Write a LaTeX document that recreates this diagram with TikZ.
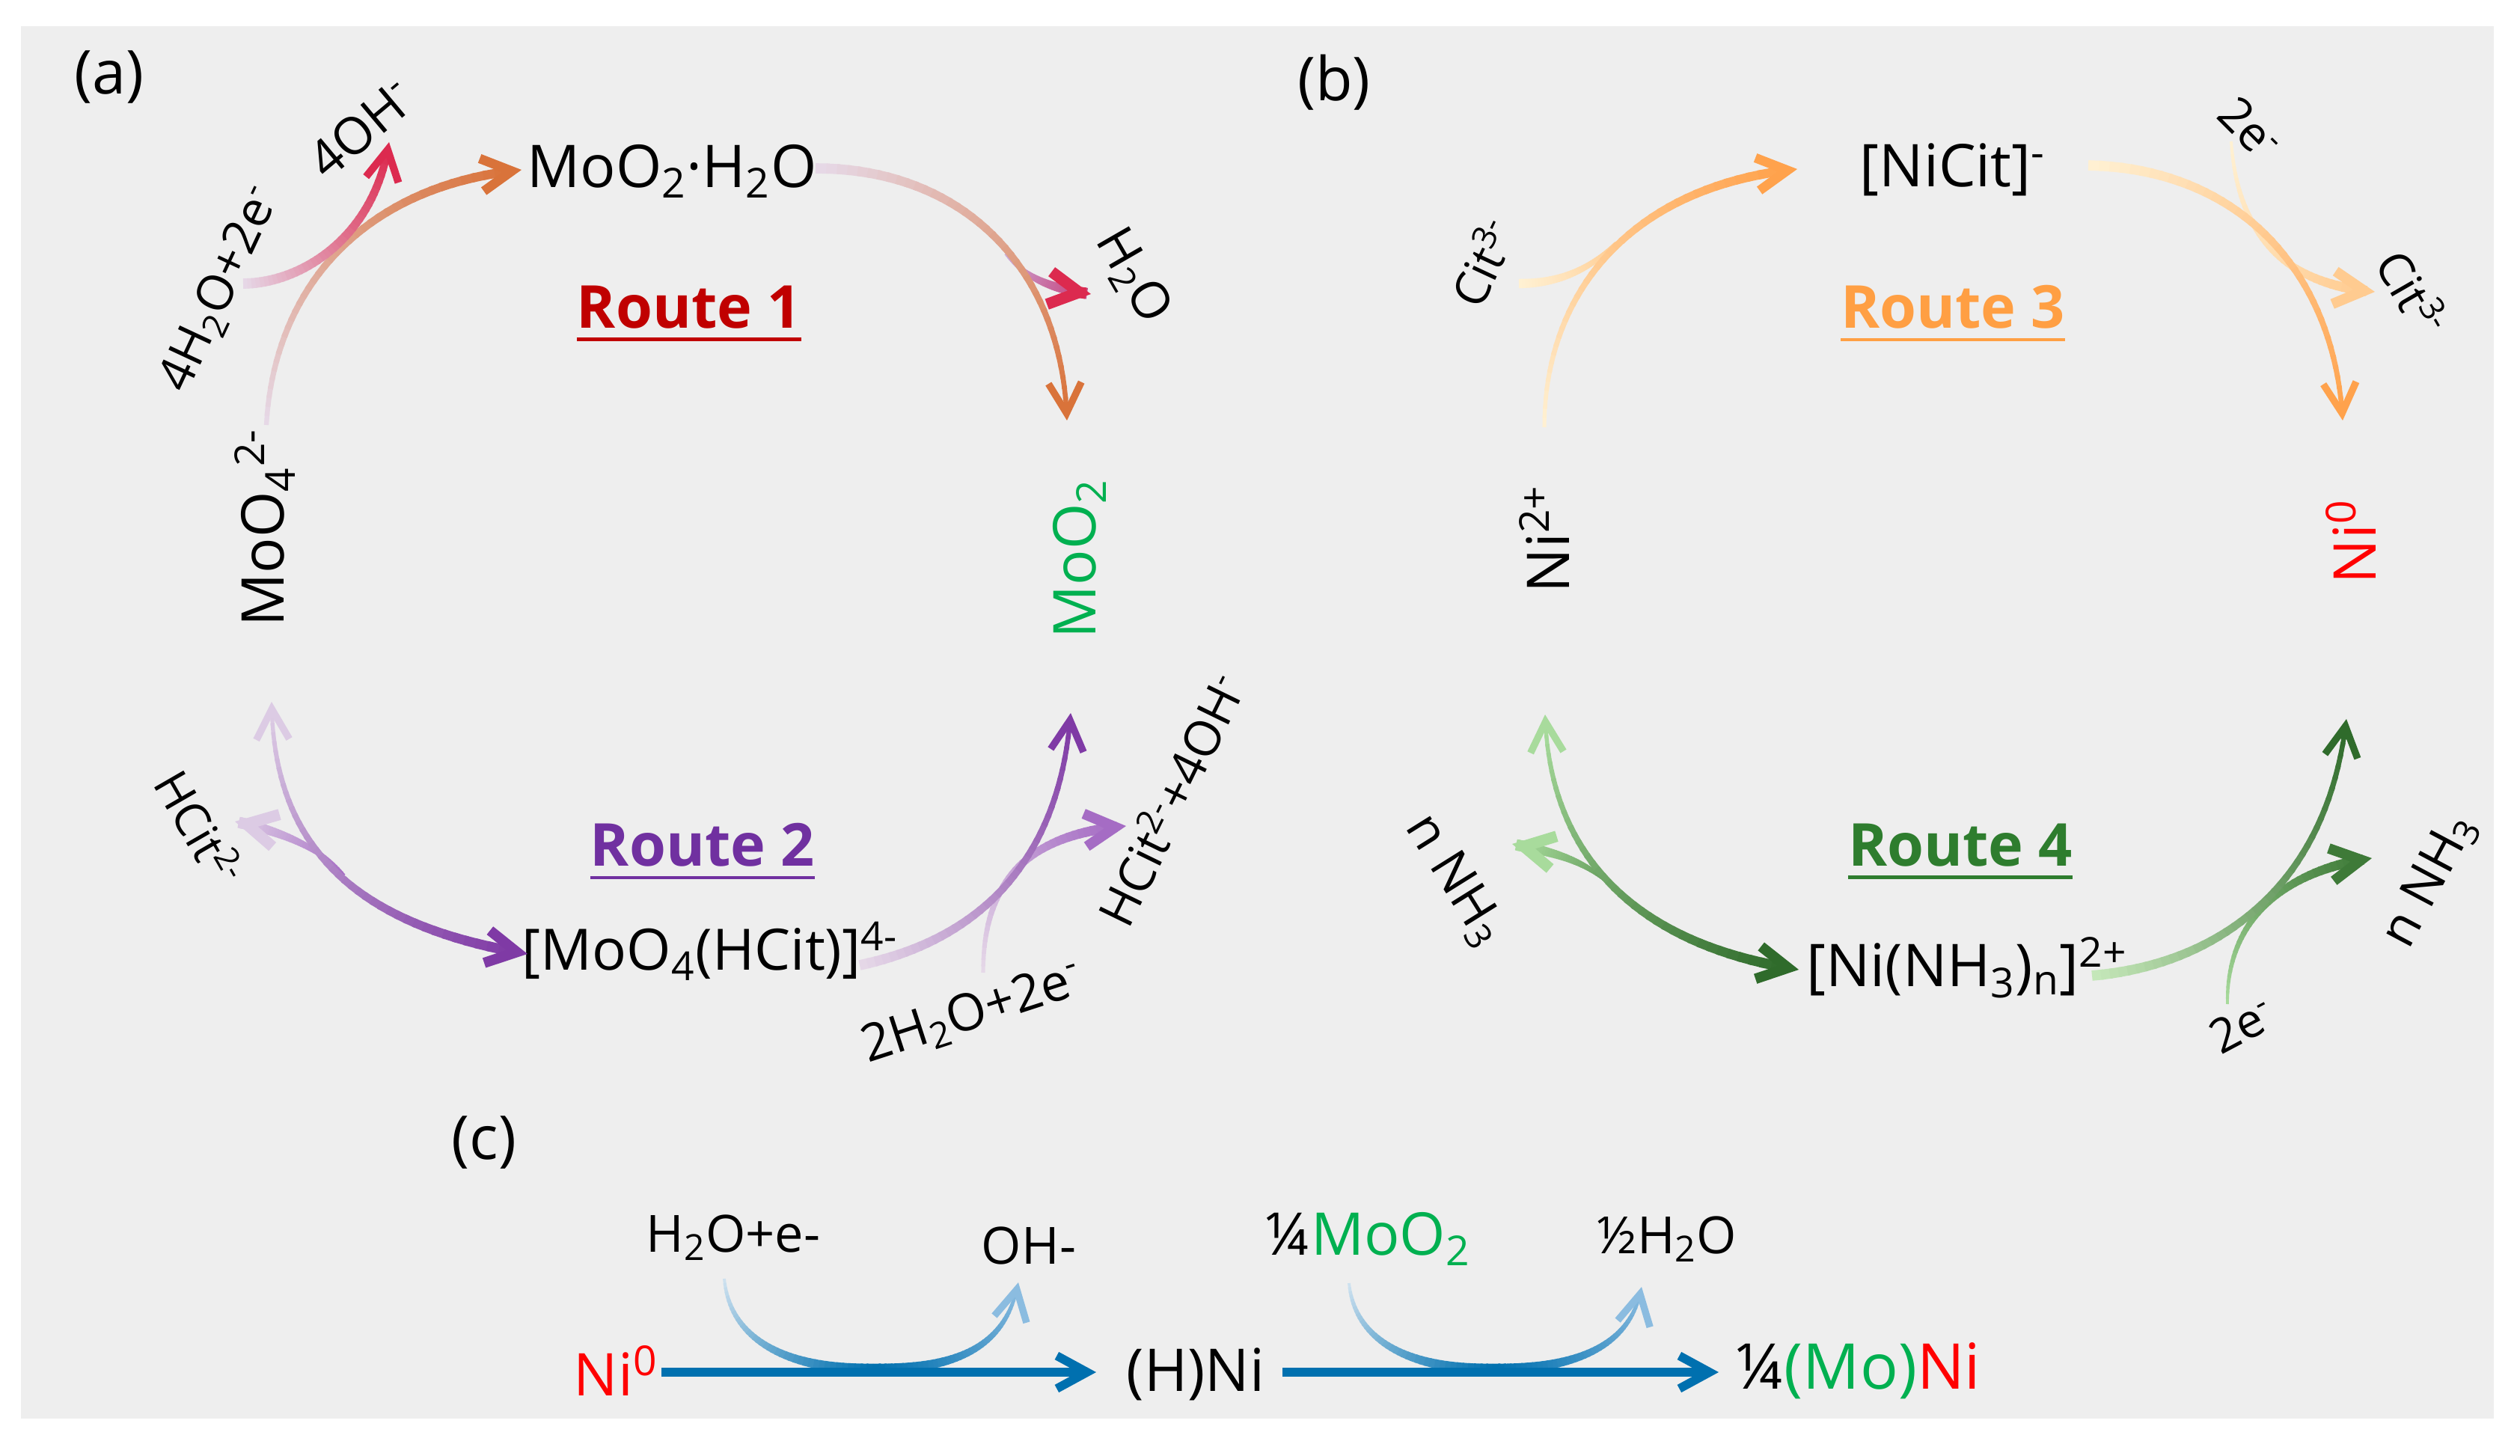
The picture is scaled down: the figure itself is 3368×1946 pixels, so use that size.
\documentclass[tikz,border=0pt]{standalone}
\usepackage{fontspec}
\setmainfont{Open Sans}
\usepackage{xcolor}
\usetikzlibrary{arrows.meta,calc}

\newcommand{\routeline}[1]{\vtop{\hbox{#1}\kern3.5pt\hrule height 1.3pt}}

\definecolor{panelgrey}{HTML}{EEEEEE}
\definecolor{moogreen}{HTML}{00B050}
\definecolor{nired}{HTML}{FF0000}
\definecolor{routered}{HTML}{C00000}
\definecolor{routepurple}{HTML}{7030A0}
\definecolor{routeorange}{HTML}{FF9F43}
\definecolor{routegreen}{HTML}{2E7D2E}
\definecolor{lilac}{HTML}{E6D9E8}
\definecolor{rustorange}{HTML}{D9733A}
\definecolor{crimson}{HTML}{DC2A4F}
\definecolor{purpledark}{HTML}{7F3AA5}
\definecolor{purplemid}{HTML}{A56CC4}
\definecolor{lilacpale}{HTML}{DCCBE4}
\definecolor{creampale}{HTML}{FFF1D3}
\definecolor{orangemid}{HTML}{FFA24C}
\definecolor{orangepale}{HTML}{FFCB90}
\definecolor{greendark}{HTML}{2F6B2B}
\definecolor{greenmid}{HTML}{3E7A38}
\definecolor{greenpale}{HTML}{A8DB9C}
\definecolor{greenwash}{HTML}{C6E8BA}
\definecolor{flowblue}{HTML}{0070AF}
\definecolor{bluepale}{HTML}{CFE2F0}
\definecolor{bluesoft}{HTML}{8BBCE0}

\tikzset{
  species/.style={font=\fontsize{22.4}{27}\selectfont, inner sep=2pt},
  complex/.style={font=\fontsize{21.7}{26}\selectfont, inner sep=2pt},
  sidelabel/.style={font=\fontsize{19.5}{24}\selectfont, inner sep=2pt},
  longlabel/.style={font=\fontsize{18.7}{23}\selectfont, inner sep=2pt},
  smalllabel/.style={font=\fontsize{18}{22}\selectfont, inner sep=2pt},
  panel/.style={font=\fontsize{23}{27}\selectfont, inner sep=2pt},
  routelabel/.style={font=\fontsize{22.5}{27}\selectfont\bfseries, inner sep=2pt},
  barb/.style={-{Straight Barb[length=11.5pt,width=12.5pt]}},
  mainflow/.style={barb, draw=flowblue, line width=3.3pt},
}

\newcommand{\fadeStart}{0}
\newcommand{\fadeEnd}{1}
% curve: start, control, control, end, colour from, colour to, width from, width to (px)
\newcommand{\fadecurve}[8]{%
  \foreach \fstep in {1,...,40}{%
    \pgfmathsetmacro\fadeA{\fadeStart+(\fadeEnd-\fadeStart)*(\fstep-1)/40}
    \pgfmathsetmacro\fadeB{min(\fadeEnd,\fadeStart+(\fadeEnd-\fadeStart)*(\fstep+0.3)/40)}
    \pgfmathtruncatemacro\fadeMix{100*(\fstep-0.5)/40}
    \pgfmathsetmacro\fadeW{(#7+(#8-#7)*(\fstep-0.5)/40)*0.356}
    \path (#1) .. controls (#2) and (#3) .. (#4)
      coordinate[pos=\fadeA] (fadea) coordinate[pos=\fadeB] (fadeb);
    \draw[line width=\fadeW pt, draw=#6!\fadeMix!#5] (fadea) -- (fadeb);
  }%
}
% same, with a head at the end
\newcommand{\fadearrow}[8]{%
  {\renewcommand{\fadeEnd}{0.97}\fadecurve{#1}{#2}{#3}{#4}{#5}{#6}{#7}{#8}}%
  \pgfmathsetmacro\fadeW{max(#8,7.5)*0.356}
  \path (#1) .. controls (#2) and (#3) .. (#4) coordinate[pos=0.96] (fadeb);
  \draw[barb, line width=\fadeW pt, draw=#6] (fadeb) -- (#4);
}
% same, with a head at both ends
\newcommand{\fadedouble}[8]{%
  {\renewcommand{\fadeStart}{0.03}\fadearrow{#1}{#2}{#3}{#4}{#5}{#6}{#7}{#8}}%
  \pgfmathsetmacro\fadeW{max(#7,7.5)*0.356}
  \path (#1) .. controls (#2) and (#3) .. (#4) coordinate[pos=0.04] (fadea);
  \draw[barb, line width=\fadeW pt, draw=#5] (fadea) -- (#1);
}

\begin{document}
\begin{tikzpicture}[x=0.01cm,y=-0.01cm]
  \useasboundingbox (0,0) rectangle (3368,1946);
  \fill[panelgrey] (28,35) rectangle (3333,1896);

  % Panel letters
  \node[panel] (paneta) at (146,103) {(a)};
  \node[panel] (panetb) at (1783,110) {(b)};
  \node[panel] (panetc) at (647,1527) {(c)};

  % Route 1 and 2 species
  \node[species, rotate=90] (moofour) at (354,705) {MoO\textsubscript{4}\textsuperscript{2-}};
  \node[species, text=moogreen, rotate=90] (mootwo) at (1443,747) {MoO\textsubscript{2}};
  \node[species] (moohyd) at (898,229) {MoO\textsubscript{2}·H\textsubscript{2}O};
  \node[complex] (moocit) at (949,1271) {[MoO\textsubscript{4}(HCit)]\textsuperscript{4-}};
  \node[routelabel, text=routered] (routeone) at (921,419) {\routeline{Route 1}};
  \node[routelabel, text=routepurple] (routetwo) at (939,1138) {\routeline{Route 2}};
  \node[sidelabel, rotate=40] (fouroh) at (483,172) {4OH\textsuperscript{-}};
  \node[longlabel, rotate=65] (fourwater) at (296,387) {4H\textsubscript{2}O+2e\textsuperscript{-}};
  \node[sidelabel, rotate=-60] (waterout) at (1514,369) {H\textsubscript{2}O};
  \node[smalllabel, rotate=-60] (hcit) at (268,1106) {HCit\textsuperscript{2-}};
  \node[longlabel, rotate=64] (hcitoh) at (1564,1068) {HCit\textsuperscript{2-}+4OH\textsuperscript{-}};
  \node[sidelabel, rotate=18] (twowater) at (1300,1355) {2H\textsubscript{2}O+2e\textsuperscript{-}};

  % Route 3 and 4 species
  \node[species, rotate=90] (nitwo) at (2064,720) {Ni\textsuperscript{2+}};
  \node[species, text=nired, rotate=90] (nizero) at (3142,724) {Ni\textsuperscript{0}};
  \node[species] (nicit) at (2610,227) {[NiCit]\textsuperscript{-}};
  \node[species] (niamine) at (2629,1293) {[Ni(NH\textsubscript{3})\textsubscript{n}]\textsuperscript{2+}};
  \node[routelabel, text=routeorange] (routethree) at (2610,419) {\routeline{Route 3}};
  \node[routelabel, text=routegreen] (routefour) at (2620,1138) {\routeline{Route 4}};
  \node[smalllabel, rotate=65] (citleft) at (1981,350) {Cit\textsuperscript{3-}};
  \node[smalllabel, rotate=-60] (citright) at (3226,391) {Cit\textsuperscript{3-}};
  \node[smalllabel, rotate=-45] (etop) at (3007,172) {2e\textsuperscript{-}};
  \node[smalllabel, rotate=28] (ebottom) at (2997,1370) {2e\textsuperscript{-}};
  \node[sidelabel, rotate=-58] (amineleft) at (1944,1177) {n NH\textsubscript{3}};
  \node[sidelabel, rotate=62] (amineright) at (3248,1177) {n NH\textsubscript{3}};

  % Panel c species
  \node[species, text=nired] (nistart) at (823,1832) {Ni\textsuperscript{0}};
  \node[species] (hni) at (1598,1837) {(H)Ni};
  \node[species, font=\fontsize{24}{28}\selectfont] (moni) at (2483,1832) {¼{\color{moogreen}(Mo)}{\color{nired}Ni}};
  \node[sidelabel] (waterin) at (980,1654) {H\textsubscript{2}O+e-};
  \node[sidelabel] (ohout) at (1375,1665) {OH-};
  \node[species] (mooin) at (1828,1656) {¼{\color{moogreen}MoO\textsubscript{2}}};
  \node[sidelabel] (halfwater) at (2228,1656) {½H\textsubscript{2}O};

  % Where side arrows leave the main arcs
  \coordinate (splitone) at (1344,339);
  \coordinate (splittwo) at (460,1170);
  \coordinate (mergethree) at (2160,325);
  \coordinate (splitfour) at (2157,1187);
  \coordinate (dipone) at (1167,1830);
  \coordinate (diptwo) at (1995,1830);

  % Route 1
  \fadearrow{[shift={(2,-137)}]moofour.center}{365,400}{470,250}{[shift={(-201,-2)}]moohyd.center}{lilac}{rustorange}{5}{10}
  \fadearrow{[shift={(29,-8)}]fourwater.center}{400,379}{500,320}{[shift={(37,18)}]fouroh.center}{lilac}{crimson}{11}{8}
  \fadearrow{splitone}{1370,370}{1400,385}{[shift={(-56,24)}]waterout.center}{lilac!60!purplemid}{crimson}{3}{12}
  \fadearrow{[shift={(192,-4)}]moohyd.center}{1290,225}{1420,360}{[shift={(-17,-185)}]mootwo.center}{lilac}{rustorange}{11}{5}

  % Route 2
  \fadearrow{splittwo}{425,1130}{370,1110}{[shift={(46,-8)}]hcit.center}{purplemid}{lilacpale}{3}{12}
  \fadedouble{[shift={(9,233)}]moofour.center}{365,1120}{460,1235}{[shift={(-244,4)}]moocit.center}{lilacpale}{purpledark}{4}{11}
  \fadearrow{[shift={(14,-55)}]twowater.center}{1314,1180}{1370,1115}{[shift={(-59,36)}]hcitoh.center}{lilac}{purplemid}{4}{11}
  \fadearrow{[shift={(200,19)}]moocit.center}{1290,1260}{1415,1170}{[shift={(-12,206)}]mootwo.center}{lilac}{purpledark}{11}{5}

  % Route 3
  \fadecurve{[shift={(49,29)}]citleft.center}{2090,379}{2130,355}{mergethree}{creampale}{orangepale}{10}{4}
  \fadearrow{[shift={(0,-149)}]nitwo.center}{2064,400}{2170,250}{[shift={(-208,-1)}]nicit.center}{creampale}{orangemid}{4}{10}
  \fadearrow{[shift={(-25,17)}]etop.center}{2990,310}{3050,380}{[shift={(-52,-1)}]citright.center}{creampale}{orangepale}{3}{11}
  \fadearrow{[shift={(181,-6)}]nicit.center}{2990,225}{3120,360}{[shift={(-11,-162)}]nizero.center}{creampale}{orangemid}{11}{5}

  % Route 4
  \fadearrow{splitfour}{2120,1150}{2080,1140}{[shift={(77,-49)}]amineleft.center}{greenmid!70!greenpale}{greenpale}{3}{12}
  \fadedouble{[shift={(1,235)}]nitwo.center}{2070,1130}{2170,1260}{[shift={(-225,3)}]niamine.center}{greenpale}{greendark}{4}{11}
  \fadearrow{[shift={(-20,-28)}]ebottom.center}{2975,1240}{3040,1165}{[shift={(-78,-30)}]amineright.center}{greenpale}{greenmid}{3}{11}
  \fadearrow{[shift={(167,11)}]niamine.center}{2960,1290}{3110,1190}{[shift={(-6,237)}]nizero.center}{greenwash}{greendark}{11}{5}

  % Panel c
  \fadecurve{[shift={(-12,55)}]waterin.center}{975,1790}{1050,1830}{dipone}{bluepale}{flowblue}{3}{12}
  \fadearrow{dipone}{1280,1830}{1345,1800}{[shift={(-14,49)}]ohout.center}{flowblue}{bluesoft}{12}{3}
  \fadecurve{[shift={(-25,59)}]mooin.center}{1810,1790}{1880,1830}{diptwo}{bluepale}{flowblue}{3}{12}
  \fadearrow{diptwo}{2105,1830}{2180,1800}{[shift={(-34,64)}]halfwater.center}{flowblue}{bluesoft}{12}{3}
  \draw[mainflow] ([shift={(61,2)}]nistart.center) -- ([shift={(-133,-3)}]hni.center);
  \draw[mainflow] ([shift={(116,-3)}]hni.center) -- ([shift={(-186,2)}]moni.center);
\end{tikzpicture}
\end{document}
